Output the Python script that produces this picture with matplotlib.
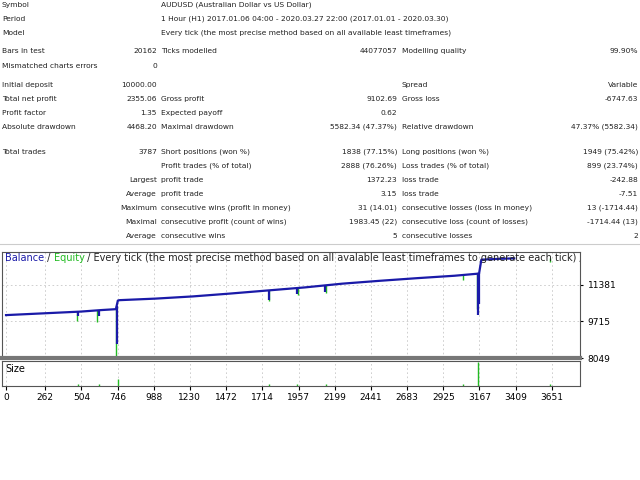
import matplotlib
matplotlib.use("Agg")
import matplotlib.pyplot as plt
import numpy as np

# ---- report table data ----
rows_top = [("Symbol", "AUDUSD (Australian Dollar vs US Dollar)"),
            ("Period", "1 Hour (H1) 2017.01.06 04:00 - 2020.03.27 22:00 (2017.01.01 - 2020.03.30)"),
            ("Model", "Every tick (the most precise method based on all available least timeframes)")]
rows_main = [
    (51, "Bars in test", "20162", "Ticks modelled", "44077057", "Modelling quality", "99.90%"),
    (66, "Mismatched charts errors", "0", "", "", "", ""),
    (85, "Initial deposit", "10000.00", "", "", "Spread", "Variable"),
    (99, "Total net profit", "2355.06", "Gross profit", "9102.69", "Gross loss", "-6747.63"),
    (113, "Profit factor", "1.35", "Expected payoff", "0.62", "", ""),
    (127, "Absolute drawdown", "4468.20", "Maximal drawdown", "5582.34 (47.37%)", "Relative drawdown", "47.37% (5582.34)"),
    (152, "Total trades", "3787", "Short positions (won %)", "1838 (77.15%)", "Long positions (won %)", "1949 (75.42%)"),
    (166, "", "", "Profit trades (% of total)", "2888 (76.26%)", "Loss trades (% of total)", "899 (23.74%)"),
    (180, "", "Largest", "profit trade", "1372.23", "loss trade", "-242.88"),
    (194, "", "Average", "profit trade", "3.15", "loss trade", "-7.51"),
    (208, "", "Maximum", "consecutive wins (profit in money)", "31 (14.01)", "consecutive losses (loss in money)", "13 (-1714.44)"),
    (222, "", "Maximal", "consecutive profit (count of wins)", "1983.45 (22)", "consecutive loss (count of losses)", "-1714.44 (13)"),
    (236, "", "Average", "consecutive wins", "5", "consecutive losses", "2"),
]

# ---- chart data ----
bal_x = [0, 250, 500, 640, 735, 748, 760, 1000, 1250, 1500, 1750, 2000, 2250, 2500, 2750, 3000, 3100, 3150, 3165, 3180, 3300, 3400]
bal_y = [10000, 10080, 10160, 10230, 10270, 10660, 10680, 10750, 10850, 10980, 11120, 11260, 11430, 11560, 11680, 11790, 11850, 11880, 11900, 12520, 12560, 12580]
bdip_x = [480, 620, 740, 1760, 1945, 2135, 3155, 3165]
bdip_y = [9950, 9950, 8700, 10700, 10950, 11050, 10000, 10500]
edip_x = [475, 610, 735, 1760, 1950, 2140, 3060, 3150, 3640]
edip_y = [9750, 9700, 8100, 10650, 10900, 11000, 11600, 10300, 12400]
size_x = [480, 620, 746, 1760, 1945, 2140, 3060, 3160, 3640]
size_v = [0.5, 0.5, 1.5, 0.5, 0.5, 0.5, 0.5, 5.0, 0.5]
xticks = [0, 262, 504, 746, 988, 1230, 1472, 1714, 1957, 2199, 2441, 2683, 2925, 3167, 3409, 3651]
yticks = [8049, 9715, 11381]

W, H = 640, 480
fig = plt.figure(figsize=(6.4, 4.8), dpi=100)
plt.rcParams['font.family'] = ['DejaVu Sans']
fs = 5.4
def T(x, y, s, ha="left", **kw):
    fig.text(x / W, 1 - y / H, s, ha=ha, va="center", fontsize=fs, color="#222222", **kw)

for i, (a, b) in enumerate(rows_top):
    y = 5 + i * 14
    T(2, y, a); T(161, y, b)
for (y, l1, v1, l2, v2, l3, v3) in rows_main:
    T(2, y, l1); T(157, y, v1, ha="right"); T(161, y, l2)
    T(397, y, v2, ha="right"); T(402, y, l3); T(638, y, v3, ha="right")
fig.add_artist(plt.Line2D([0, 1], [1 - 244 / H] * 2, color="#cccccc", lw=0.8))

xmin, xmax = -27, 3840
ax = fig.add_axes([2 / W, 1 - 358 / H, 578 / W, 106 / H])
ax.set_xlim(xmin, xmax); ax.set_ylim(8049, 12870)
ax.plot(bal_x, bal_y, color="#1a1aa8", lw=1.6, zorder=3)
ax.vlines(edip_x, edip_y, np.interp(edip_x, bal_x, bal_y), color="#22bb22", lw=1.0, zorder=2)
ax.vlines(bdip_x, bdip_y, np.interp(bdip_x, bal_x, bal_y), color="#1a1aa8", lw=1.6, zorder=4)
ax.set_xticks(xticks); ax.set_yticks(yticks)
ax.grid(True, color="#c8c8c8", ls=(0, (2, 3)), lw=0.6)
ax.tick_params(axis="x", labelbottom=False, length=0)
ax.tick_params(axis="y", left=False, right=True, labelleft=False, labelright=True, labelsize=6.5, length=2)
for s in ax.spines.values():
    s.set_color("#555555"); s.set_linewidth(0.8)
ax.spines["bottom"].set_linewidth(3); ax.spines["bottom"].set_color("#777777")
t1 = ax.text(0.005, 0.94, "Balance", color="#1a1aa8", transform=ax.transAxes, fontsize=7, va="center")
t2 = ax.annotate(" / ", xy=(1, 0.5), xycoords=t1, va="center", fontsize=7, color="#222222")
t3 = ax.annotate("Equity", xy=(1, 0.5), xycoords=t2, va="center", fontsize=7, color="#22bb22")
t4 = ax.annotate(" / Every tick (the most precise method based on all avalable least timeframes to generate each tick) / 99.90%",
                 xy=(1, 0.5), xycoords=t3, va="center", fontsize=7, color="#222222", annotation_clip=False)
t4.set_clip_on(True); t4.set_clip_box(ax.bbox)

ax2 = fig.add_axes([2 / W, 1 - 386 / H, 578 / W, 25 / H])
ax2.set_xlim(xmin, xmax); ax2.set_ylim(0, 5.2)
ax2.vlines(size_x, 0, size_v, color="#22bb22", lw=1.0)
ax2.set_xticks(xticks); ax2.set_yticks([])
ax2.grid(True, axis="x", color="#c8c8c8", ls=(0, (2, 3)), lw=0.6)
ax2.tick_params(axis="x", labelsize=6.5, length=3, pad=2)
for s in ax2.spines.values():
    s.set_color("#555555"); s.set_linewidth(0.8)
ax2.text(0.005, 0.7, "Size", transform=ax2.transAxes, fontsize=7, va="center")

fig.savefig("out.png", dpi=100)
